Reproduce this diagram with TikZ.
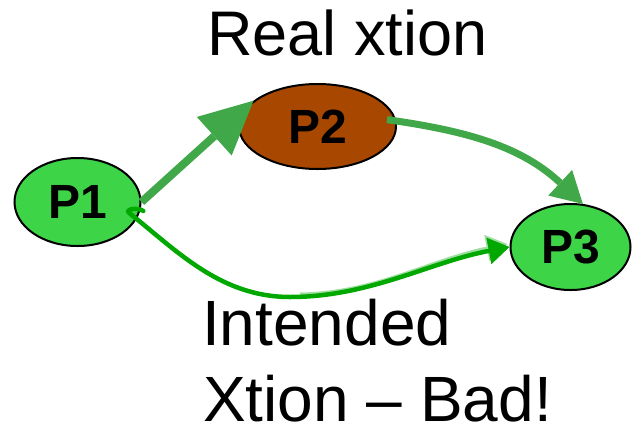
\documentclass[tikz,border=0pt]{standalone}
\usepackage{fontspec}
\setmainfont{Liberation Sans}
\usetikzlibrary{shapes.geometric,arrows.meta}
\definecolor{nodegreen}{RGB}{61,212,72}
\definecolor{nodebrown}{RGB}{168,72,0}
\definecolor{arrowgreen}{RGB}{64,168,72}
\definecolor{darkgreen}{RGB}{0,168,0}
\definecolor{palegreen}{RGB}{160,222,160}
\begin{document}
\begin{tikzpicture}[x=1pt,y=1pt,
  proc/.style={ellipse, draw=black, line width=2pt, inner sep=0pt,
    font=\fontsize{48}{48}\selectfont\bfseries},
  bigtext/.style={anchor=base west, inner sep=0pt, font=\fontsize{63}{63}\selectfont},
  realflow/.style={draw=arrowgreen},
  badflow/.style={draw=darkgreen, line width=4.5pt,
    -{Triangle[length=21pt,width=27pt,line width=0pt]}},
  badglow/.style={draw=palegreen, line width=3pt,
    -{Triangle[length=21pt,width=27pt,line width=0pt]}}]
\useasboundingbox (0,0) rectangle (632,-426);

\node[proc, fill=nodegreen, minimum width=126pt, minimum height=88pt] (P1) at (77.5,-202) {P1};
\node[proc, fill=nodebrown, minimum width=157pt, minimum height=85pt] (P2) at (317.5,-126.5) {P2};
\node[proc, fill=nodegreen, minimum width=120pt, minimum height=86pt] (P3) at (570.5,-247) {P3};

\node[bigtext] (real) at (207,-55) {Real xtion};
\node[bigtext, font=\fontsize{64}{64}\selectfont] (int1) at (202,-345) {Intended};
\node[bigtext, font=\fontsize{64}{64}\selectfont] (int2) at (203,-421) {Xtion – Bad!};

% real transaction
\draw[realflow, line width=8pt, -{Triangle[length=53pt,width=52pt,line width=0pt]}]
  (P1.east) -- (P2.158);
\draw[realflow, line width=7pt, -{Triangle[length=31pt,width=35pt,line width=0pt]}]
  ([xshift=-9pt]P2.5) to[out=-8,in=137] (P3.74);

% intended transaction
\draw[badglow] (300,-294) .. controls (375,-293) and (432,-259) .. ([shift={(-2,3)}]P3.west);
\draw[badflow, line cap=round]
  ([shift={(6,7)}]P1.-15) .. controls +(-5,4) and +(-5,4) .. ([shift={(-8,5)}]P1.-15)
  .. controls (176,-250) and (220,-297) .. (290,-297)
  .. controls (370,-297) and (430,-262) .. (P3.west);
\end{tikzpicture}
\end{document}
